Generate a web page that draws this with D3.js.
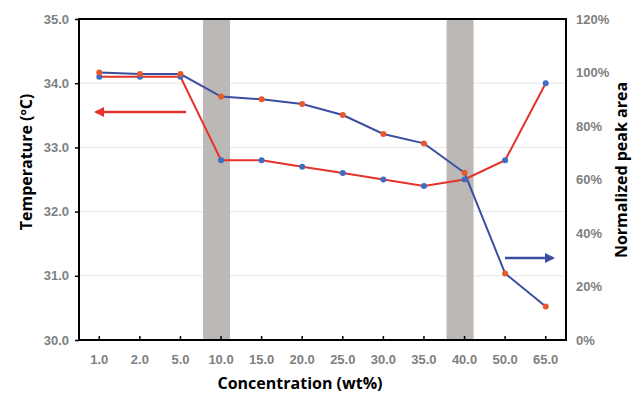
<!DOCTYPE html>
<html>
<head>
<meta charset="utf-8">
<script src="https://cdn.jsdelivr.net/npm/d3@7.9.0/dist/d3.min.js"></script>
<style>
  body { margin: 0; background: #fff; }
  svg { font-family: "Open Sans", "DejaVu Sans", sans-serif; }
</style>
</head>
<body>
<svg id="chart" width="633" height="395"></svg>
<script>
// Data
const concentrations = ['1.0', '2.0', '5.0', '10.0', '15.0', '20.0', '25.0', '30.0', '35.0', '40.0', '50.0', '65.0'];
const temperature = [34.1, 34.1, 34.1, 32.8, 32.8, 32.7, 32.6, 32.5, 32.4, 32.5, 32.8, 34.0];
const peakArea = [100, 99.4, 99.4, 91, 90, 88.2, 84.1, 77, 73.5, 62.5, 24.9, 12.5];
const shaded = ['10.0', '40.0'];
const tempTicks = [30, 31, 32, 33, 34, 35];
const areaTicks = [0, 20, 40, 60, 80, 100, 120];

// Layout
const svg = d3.select('#chart');
const margin = { left: 79, right: 67, top: 19, bottom: 55 };
const width = 633, height = 395;
const x0 = margin.left, x1 = width - margin.right;
const y0 = height - margin.bottom, y1 = margin.top;

const x = d3.scaleBand().domain(concentrations).range([x0, x1]);
const cx = d => x(d) + x.bandwidth() / 2;
const yT = d3.scaleLinear().domain([30, 35]).range([y0, y1]);
const yA = d3.scaleLinear().domain([0, 120]).range([y0, y1]);

const red = '#e5322b', blue = '#3c4ea1';
const orangeDot = '#e8582b', blueDot = '#3d6ec1';
const tickGrey = '#808080';

// gridlines
svg.append('g')
  .selectAll('line')
  .data(tempTicks.slice(1, -1))
  .join('line')
  .attr('x1', x0).attr('x2', x1)
  .attr('y1', d => yT(d)).attr('y2', d => yT(d))
  .attr('stroke', '#e6e6e6').attr('stroke-width', 1);

// gray shading bands
svg.append('g')
  .selectAll('rect')
  .data(shaded)
  .join('rect')
  .attr('x', d => cx(d) - 18)
  .attr('width', 27)
  .attr('y', y1).attr('height', y0 - y1)
  .attr('fill', '#bcb8b6');

// lines
const tempLine = d3.line().x((d, i) => cx(concentrations[i])).y(d => yT(d));
const areaLine = d3.line().x((d, i) => cx(concentrations[i])).y(d => yA(d));

svg.append('path').datum(temperature)
  .attr('d', tempLine).attr('fill', 'none')
  .attr('stroke', red).attr('stroke-width', 2);
svg.append('path').datum(peakArea)
  .attr('d', areaLine).attr('fill', 'none')
  .attr('stroke', blue).attr('stroke-width', 2);

// markers (red line has blue dots, blue line has orange dots)
svg.append('g').selectAll('circle')
  .data(temperature).join('circle')
  .attr('cx', (d, i) => cx(concentrations[i])).attr('cy', d => yT(d))
  .attr('r', 3).attr('fill', blueDot);
svg.append('g').selectAll('circle')
  .data(peakArea).join('circle')
  .attr('cx', (d, i) => cx(concentrations[i])).attr('cy', d => yA(d))
  .attr('r', 3).attr('fill', orangeDot);

// arrows
const defs = svg.append('defs');
[['arrRed', red], ['arrBlue', blue]].forEach(([id, c]) => {
  defs.append('marker')
    .attr('id', id).attr('viewBox', '0 0 10 10')
    .attr('refX', 8).attr('refY', 5)
    .attr('markerWidth', 4).attr('markerHeight', 4)
    .attr('orient', 'auto')
    .append('path').attr('d', 'M0,0 L10,5 L0,10 z').attr('fill', c);
});
svg.append('line')
  .attr('x1', 186).attr('x2', 96).attr('y1', 112).attr('y2', 112)
  .attr('stroke', red).attr('stroke-width', 2.5)
  .attr('marker-end', 'url(#arrRed)');
svg.append('line')
  .attr('x1', 505).attr('x2', 553).attr('y1', 258).attr('y2', 258)
  .attr('stroke', blue).attr('stroke-width', 2.5)
  .attr('marker-end', 'url(#arrBlue)');

// axes
const leftAxis = d3.axisLeft(yT).tickValues(tempTicks).tickFormat(d3.format('.1f')).tickSize(4).tickPadding(6);
const rightAxis = d3.axisRight(yA).tickValues(areaTicks).tickFormat(d => d + '%').tickSize(0).tickPadding(10);
const bottomAxis = d3.axisBottom(x).tickSize(-4).tickPadding(15);

const gl = svg.append('g').attr('transform', `translate(${x0},0)`).call(leftAxis);
const gr = svg.append('g').attr('transform', `translate(${x1},0)`).call(rightAxis);
const gb = svg.append('g').attr('transform', `translate(0,${y0})`).call(bottomAxis);

[gl, gr, gb].forEach(g => {
  g.select('.domain').remove();
  g.selectAll('.tick line').attr('stroke', '#000').attr('stroke-width', 1.5);
  g.selectAll('.tick text')
    .attr('fill', tickGrey)
    .style('font-size', '13px')
    .style('font-weight', 'bold');
});

// frame
svg.append('rect')
  .attr('x', x0).attr('y', y1)
  .attr('width', x1 - x0).attr('height', y0 - y1)
  .attr('fill', 'none').attr('stroke', '#000').attr('stroke-width', 2);

// titles
svg.append('text')
  .attr('x', 300).attr('y', 389)
  .attr('text-anchor', 'middle')
  .style('font-size', '16px').style('font-weight', 'bold')
  .text('Concentration (wt%)');
svg.append('text')
  .attr('transform', 'translate(32,162) rotate(-90)')
  .attr('text-anchor', 'middle')
  .style('font-size', '16px').style('font-weight', 'bold')
  .text('Temperature (ºC)');
svg.append('text')
  .attr('transform', 'translate(627,170) rotate(-90)')
  .attr('text-anchor', 'middle')
  .style('font-size', '16px').style('font-weight', 'bold')
  .text('Normalized peak area');
</script>
</body>
</html>
